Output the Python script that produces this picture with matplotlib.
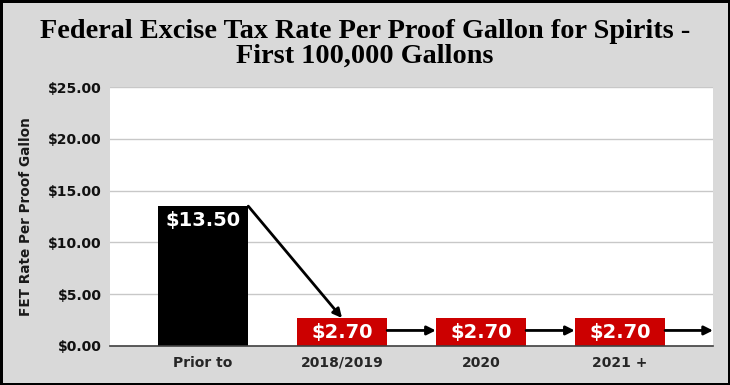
import matplotlib
matplotlib.use("Agg")
import matplotlib.pyplot as plt

categories = ["Prior to", "2018/2019", "2020", "2021 +"]
rates = [13.50, 2.70, 2.70, 2.70]
bar_colors = ["#000000", "#cc0000", "#cc0000", "#cc0000"]
value_labels = ["$13.50", "$2.70", "$2.70", "$2.70"]
y_ticks = [0, 5, 10, 15, 20, 25]
y_tick_labels = ["$0.00", "$5.00", "$10.00", "$15.00", "$20.00", "$25.00"]

fig = plt.figure(figsize=(7.3, 3.85), dpi=100)
fig.patch.set_facecolor("#d9d9d9")
fig.patch.set_edgecolor("black")
fig.patch.set_linewidth(2.5)

ax = fig.add_axes([0.1507, 0.1013, 0.8260, 0.6727])
ax.set_facecolor("white")
x = list(range(len(categories)))
bw = 0.65
ax.bar(x, rates, width=bw, color=bar_colors, zorder=3)

ax.set_xlim(-0.67, 3.67)
ax.set_ylim(0, 25)
ax.set_yticks(y_ticks)
ax.set_yticklabels(y_tick_labels, fontsize=10, fontweight="heavy", color="#111111")
ax.set_xticks(x)
ax.set_xticklabels(categories, fontsize=10, fontweight="heavy", color="#262626")
ax.tick_params(axis="both", length=0, pad=6)
ax.tick_params(axis="x", pad=7)
ax.yaxis.grid(True, color="#c8c8c8", linewidth=1, zorder=0)
for s in ["top", "right", "left"]:
    ax.spines[s].set_visible(False)
ax.spines["bottom"].set_color("#404040")
ax.spines["bottom"].set_linewidth(1.2)
ax.spines["bottom"].set_zorder(4)
ax.set_ylabel("FET Rate Per Proof Gallon", fontsize=9.8, fontweight="bold",
              color="#1a1a1a", labelpad=11)

for xi, v, lab in zip(x, rates, value_labels):
    ax.text(xi, v - 1.4, lab, ha="center", va="center", color="white",
            fontsize=14, fontweight="bold", zorder=5)

arrow_kw = dict(arrowstyle="-|>", color="black", lw=2, mutation_scale=13,
                shrinkA=0, shrinkB=0)
ax.annotate("", xy=(x[1], rates[1]), xytext=(x[0] + bw / 2, rates[0]),
            arrowprops=arrow_kw, zorder=6)
arrow_y = 1.5
for i in range(1, len(x)):
    end = x[i + 1] - bw / 2 if i + 1 < len(x) else 3.67
    ax.annotate("", xy=(end, arrow_y), xytext=(x[i] + bw / 2, arrow_y),
                arrowprops=arrow_kw, zorder=6, annotation_clip=False)

fig.text(0.5, 0.887, "Federal Excise Tax Rate Per Proof Gallon for Spirits -\nFirst 100,000 Gallons",
         ha="center", va="center", fontsize=20.3, fontweight="bold",
         family="Liberation Serif", linespacing=1.0)

fig.savefig("out.png", dpi=100, facecolor=fig.get_facecolor(), edgecolor=fig.get_edgecolor())
